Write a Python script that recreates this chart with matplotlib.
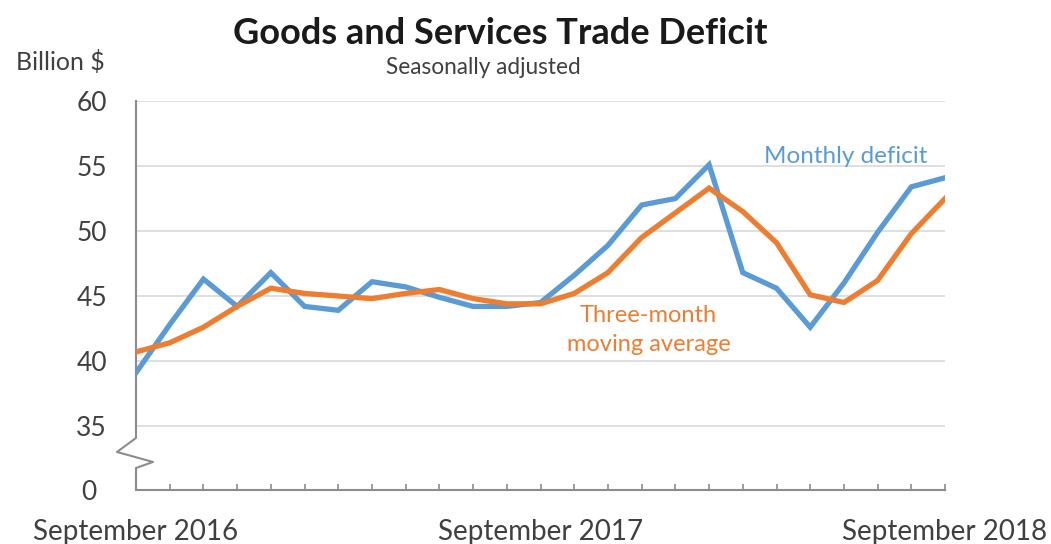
import matplotlib.pyplot as plt
from matplotlib.lines import Line2D
from matplotlib.transforms import ScaledTranslation

# Sept 2016 .. Sept 2018, billion $
months = list(range(25))
monthly = [39.1, 42.8, 46.3, 44.2, 46.8, 44.2, 43.9, 46.1, 45.7, 44.9, 44.2, 44.2, 44.5,
           46.6, 48.9, 52.0, 52.5, 55.1, 46.8, 45.6, 42.6, 46.0, 49.9, 53.4, 54.1]
moving_avg = [40.7, 41.4, 42.6, 44.2, 45.6, 45.2, 45.0, 44.8, 45.2, 45.5, 44.8, 44.4, 44.4,
              45.2, 46.8, 49.5, 51.4, 53.3, 51.5, 49.1, 45.1, 44.5, 46.2, 49.8, 52.5]
x_labels = ['September 2016'] + [''] * 11 + ['September 2017'] + [''] * 11 + ['September 2018']
y_ticks = [35, 40, 45, 50, 55, 60]

blue = '#5b9bd5'
orange = '#ed7d31'
axis_gray = '#8c8c8c'
text_gray = '#404040'

plt.rcParams['font.family'] = ['Lato', 'DejaVu Sans']

fig = plt.figure(figsize=(10.51, 5.44), dpi=100)
ax = fig.add_axes([0.1294, 0.0993, 0.7698, 0.7150])

ax.plot(months, monthly, color=blue, lw=3.8, solid_joinstyle='miter', zorder=3)
ax.plot(months, moving_avg, color=orange, lw=3.8, solid_joinstyle='miter', zorder=3)

ybot = 30.08
ax.set_ylim(ybot, 60)
ax.set_xlim(0, 24)
ax.set_yticks([ybot] + y_ticks)
ax.set_yticklabels(['0'] + [str(v) for v in y_ticks], fontsize=19, color=text_gray)
ax.tick_params(axis='y', length=0, pad=21)
# the "0" below the break sits a little further left
zero = ax.get_yticklabels()[0]
zero.set_transform(zero.get_transform() + ScaledTranslation(-0.1, 0, fig.dpi_scale_trans))
for v in y_ticks:
    ax.axhline(v, color='#d9d9d9', lw=1.2, zorder=1)

ax.set_xticks(months)
ax.set_xticklabels(x_labels, fontsize=20, color=text_gray)
ax.tick_params(axis='x', direction='in', length=4, width=1.2, color=axis_gray, pad=21)

for s in ['top', 'right', 'left']:
    ax.spines[s].set_visible(False)
ax.spines['bottom'].set_color(axis_gray)
ax.spines['bottom'].set_linewidth(1.5)

# broken y axis
ax.add_line(Line2D([0, 0, -0.0235, 0.021, 0, 0], [1, 0.1337, 0.0977, 0.072, 0.0566, 0],
                   transform=ax.transAxes, color=axis_gray, lw=1.5, clip_on=False))

ax.text(21.04, 55.7, 'Monthly deficit', color=blue, fontsize=17.5, ha='center', va='center')
ax.text(15.2, 42.4, 'Three-month\nmoving average', color=orange, fontsize=17,
        ha='center', va='center', linespacing=1.45)

fig.text(0.476, 0.939, 'Goods and Services Trade Deficit', fontsize=26, fontweight='bold',
         color='#1a1a1a', ha='center', va='center')
fig.text(0.46, 0.875, 'Seasonally adjusted', fontsize=16.3, color=text_gray, ha='center', va='center')
fig.text(0.057, 0.886, 'Billion $', fontsize=18, color=text_gray, ha='center', va='center')

fig.savefig('out.png', dpi=100)
